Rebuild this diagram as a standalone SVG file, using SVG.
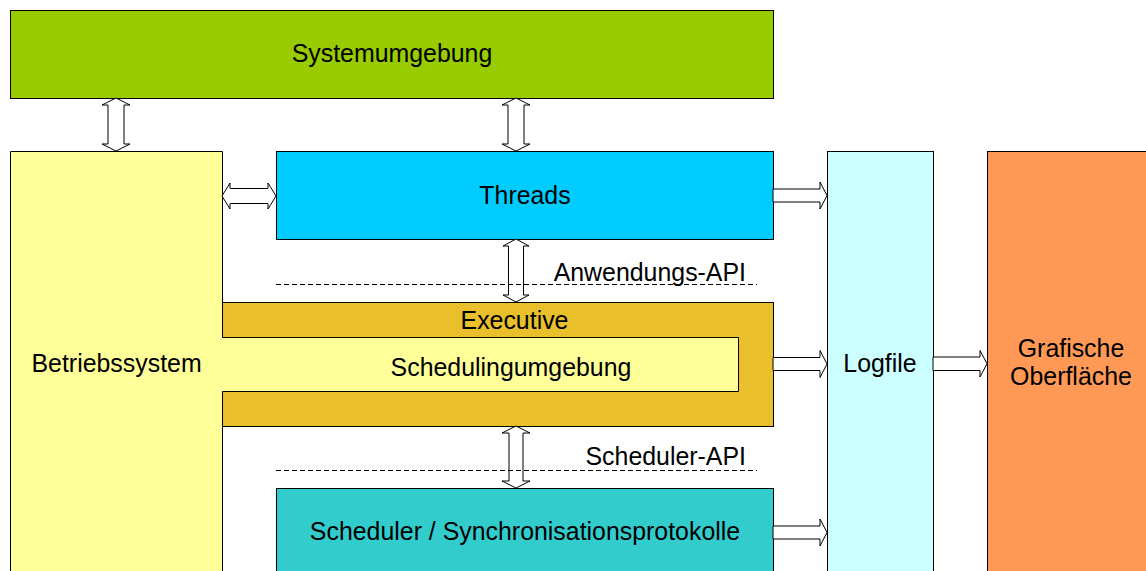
<svg xmlns="http://www.w3.org/2000/svg" width="1146" height="571" viewBox="0 0 1146 571">
<style>
.box{stroke:#000;stroke-width:1}
.t{font-family:"Liberation Sans",Arial,sans-serif;font-size:24.9px;fill:#000}
.m{text-anchor:middle}
.ar{fill:#fff;stroke:#000;stroke-width:1;stroke-linejoin:miter}
.dash{stroke:#000;stroke-width:1;stroke-dasharray:5,3;fill:none}
</style>
<rect width="1146" height="571" fill="#fff"/>
<g id="systemumgebung">
<rect class="box" x="10.5" y="10.5" width="763" height="88" fill="#99CC00"/>
<text class="t m" x="392" y="61.5">Systemumgebung</text>
</g>
<g id="threads">
<rect class="box" x="276.5" y="151.5" width="497" height="88" fill="#00CCFF"/>
<text class="t m" x="525" y="203.5">Threads</text>
</g>
<g id="executive">
<rect class="box" x="222.5" y="302.5" width="551" height="124" fill="#E9BF2C"/>
<text class="t m" x="514.5" y="329">Executive</text>
</g>
<g id="betriebssystem">
<path class="box" d="M10.5,151.5 H222.5 V337.5 H738.5 V391.5 H222.5 V580 H10.5 Z" fill="#FFFF99"/>
<text class="t" x="31.5" y="371.5">Betriebssystem</text>
<text class="t m" x="511" y="376">Schedulingumgebung</text>
</g>
<g id="scheduler">
<rect class="box" x="276.5" y="488.5" width="497" height="95" fill="#33CCCC"/>
<text class="t m" x="525" y="540">Scheduler / Synchronisationsprotokolle</text>
</g>
<g id="logfile">
<rect class="box" x="827.5" y="151.5" width="106" height="430" fill="#CCFFFF"/>
<text class="t m" x="880" y="371.5">Logfile</text>
</g>
<g id="grafische">
<rect class="box" x="987.5" y="151.5" width="170" height="430" fill="#FF9955"/>
<text class="t m" x="1071" y="356.5">Grafische</text>
<text class="t m" x="1071" y="385">Oberfläche</text>
</g>
<g id="connectors">
<path class="ar" d="M116,98 L130,105 L124,105 L124,144 L130,144 L116,151 L102,144 L108,144 L108,105 L102,105 Z"/>
<path class="ar" d="M516,98 L530,105 L524,105 L524,144 L530,144 L516,151 L502,144 L508,144 L508,105 L502,105 Z"/>
<path class="ar" d="M516,239 L529,246 L523.5,246 L523.5,295 L529,295 L516,302 L503,295 L508.5,295 L508.5,246 L503,246 Z"/>
<path class="ar" d="M516,426 L530,433 L523,433 L523,481 L530,481 L516,488 L502,481 L509,481 L509,433 L502,433 Z"/>
<path class="ar" d="M222,196 L230,183 L230,188.5 L268,188.5 L268,183 L276,196 L268,209 L268,203.5 L230,203.5 L230,209 Z"/>
<path class="ar" d="M773,189 L820,189 L820,182 L827,195.5 L820,209 L820,202 L773,202 Z"/>
<path class="ar" d="M773,357.5 L820,357.5 L820,350.5 L827,364 L820,377.5 L820,370.5 L773,370.5 Z"/>
<path class="ar" d="M933,357 L980,357 L980,350.5 L987,363.7 L980,377 L980,370.5 L933,370.5 Z"/>
<path class="ar" d="M773,526 L820,526 L820,519 L827,532.5 L820,546 L820,539 L773,539 Z"/>
<line class="dash" x1="276" y1="284.5" x2="757" y2="284.5"/>
<line class="dash" x1="276" y1="470.5" x2="757" y2="470.5"/>
<text class="t" x="746" y="281" text-anchor="end">Anwendungs-API</text>
<text class="t" x="746" y="465" text-anchor="end">Scheduler-API</text>
</g>
</svg>
